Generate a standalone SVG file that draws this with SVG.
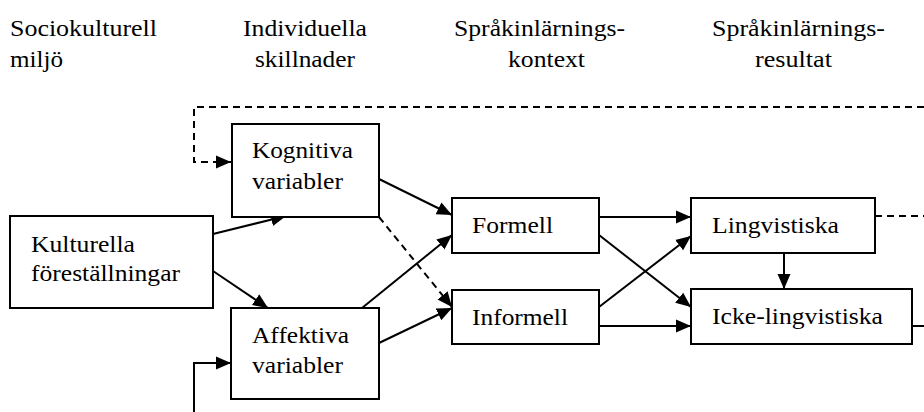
<svg xmlns="http://www.w3.org/2000/svg" width="924" height="412" viewBox="0 0 924 412">
<style>
text{font-family:'Liberation Serif','Times New Roman',Times,serif;font-size:24px;fill:#000}
.box{fill:#fff;stroke:#000;stroke-width:2}
.ln{fill:none;stroke:#000;stroke-width:2}
.ds{stroke-dasharray:7 5}
</style>
<defs>
<marker id="ah" markerUnits="userSpaceOnUse" markerWidth="15" markerHeight="14" refX="15" refY="7" orient="auto" viewBox="0 0 15 14">
<path d="M0,0.5 L15,7 L0,13.5 z" fill="#000"/>
</marker>
</defs>
<g id="headers">
<text x="10" y="36" textLength="147" lengthAdjust="spacingAndGlyphs">Sociokulturell</text>
<text x="10" y="67" textLength="53" lengthAdjust="spacingAndGlyphs">miljö</text>
<text x="243" y="36" textLength="124" lengthAdjust="spacingAndGlyphs">Individuella</text>
<text x="255" y="67" textLength="100" lengthAdjust="spacingAndGlyphs">skillnader</text>
<text x="454" y="36" textLength="171" lengthAdjust="spacingAndGlyphs">Språkinlärnings-</text>
<text x="508" y="67" textLength="77" lengthAdjust="spacingAndGlyphs">kontext</text>
<text x="712" y="36" textLength="173" lengthAdjust="spacingAndGlyphs">Språkinlärnings-</text>
<text x="755" y="67" textLength="77" lengthAdjust="spacingAndGlyphs">resultat</text>
</g>
<g id="connectors">
<path class="ln ds" d="M924,107 L194,107 L194,162 L231,162" marker-end="url(#ah)"/>
<path class="ln ds" d="M875,216 L924,216"/>
<path class="ln" d="M912,326 L924,326"/>
<path class="ln" d="M194,412 L194,363 L231,363" marker-end="url(#ah)"/>
<path class="ln" d="M213,234 L286,216" marker-end="url(#ah)"/>
<path class="ln" d="M213,271 L268,308" marker-end="url(#ah)"/>
<path class="ln" d="M379,179 L452,215" marker-end="url(#ah)"/>
<path class="ln ds" d="M379,217 L452,307" marker-end="url(#ah)"/>
<path class="ln" d="M362,308 L452,235" marker-end="url(#ah)"/>
<path class="ln" d="M379,343 L452,308" marker-end="url(#ah)"/>
<path class="ln" d="M599,217 L691,217" marker-end="url(#ah)"/>
<path class="ln" d="M599,235 L691,307" marker-end="url(#ah)"/>
<path class="ln" d="M599,307 L691,236" marker-end="url(#ah)"/>
<path class="ln" d="M599,326 L691,326" marker-end="url(#ah)"/>
<path class="ln" d="M784,253 L784,289" marker-end="url(#ah)"/>
</g>
<g id="kulturella">
<rect class="box" x="10" y="216" width="203" height="92"/>
<text x="31" y="252" textLength="104" lengthAdjust="spacingAndGlyphs">Kulturella</text>
<text x="31" y="281" textLength="149" lengthAdjust="spacingAndGlyphs">föreställningar</text>
</g>
<g id="kognitiva">
<rect class="box" x="232" y="124" width="147" height="93"/>
<text x="252" y="158" textLength="101" lengthAdjust="spacingAndGlyphs">Kognitiva</text>
<text x="252" y="189" textLength="91" lengthAdjust="spacingAndGlyphs">variabler</text>
</g>
<g id="affektiva">
<rect class="box" x="231" y="308" width="148" height="91"/>
<text x="252" y="343" textLength="97" lengthAdjust="spacingAndGlyphs">Affektiva</text>
<text x="252" y="373" textLength="91" lengthAdjust="spacingAndGlyphs">variabler</text>
</g>
<g id="formell">
<rect class="box" x="452" y="198" width="147" height="55"/>
<text x="472" y="233" textLength="81" lengthAdjust="spacingAndGlyphs">Formell</text>
</g>
<g id="informell">
<rect class="box" x="452" y="290" width="147" height="54"/>
<text x="472" y="325" textLength="96" lengthAdjust="spacingAndGlyphs">Informell</text>
</g>
<g id="lingvistiska">
<rect class="box" x="691" y="198" width="184" height="55"/>
<text x="712" y="233" textLength="127" lengthAdjust="spacingAndGlyphs">Lingvistiska</text>
</g>
<g id="icke-lingvistiska">
<rect class="box" x="691" y="289" width="221" height="55"/>
<text x="712" y="324" textLength="171" lengthAdjust="spacingAndGlyphs">Icke-lingvistiska</text>
</g>
</svg>
